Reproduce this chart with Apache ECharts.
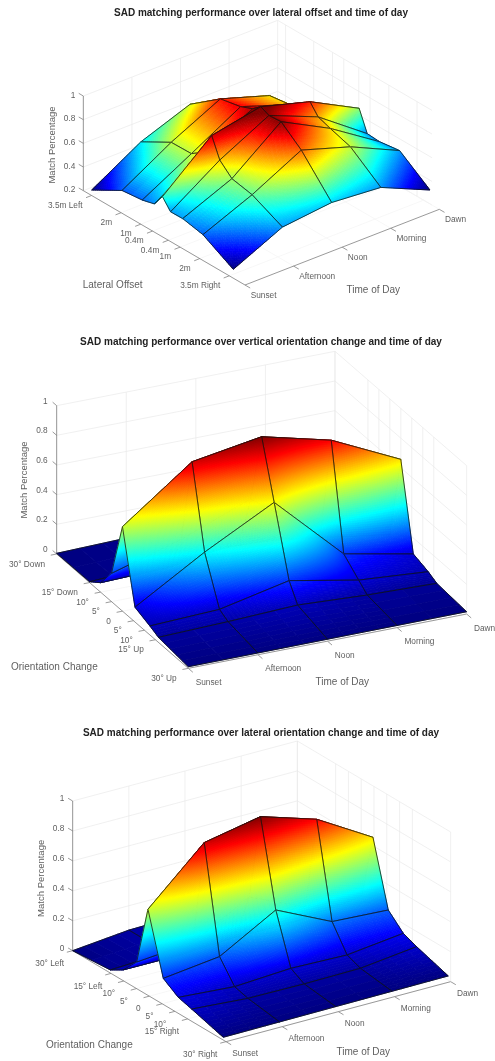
<!DOCTYPE html>
<html><head><meta charset="utf-8">
<style>html,body{margin:0;padding:0;background:#fff}#c{width:495px;height:1061px;filter:blur(.45px)}</style>
<script src="https://cdn.jsdelivr.net/npm/echarts@6/dist/echarts.min.js"></script>
</head><body><div id="c"></div>
<script>
// ---------- data ----------
const titles = [
  'SAD matching performance over lateral offset and time of day',
  'SAD matching performance over vertical orientation change and time of day',
  'SAD matching performance over lateral orientation change and time of day'
];
const timeLabels = ['Sunset','Afternoon','Noon','Morning','Dawn'];
const timeIdx = [0,1,2,3,4];

const p1TickVals = [-3.5,-2,-1,-0.4,0.4,1,2,3.5];
const p1TickLabels = ['3.5m Left','2m','1m','0.4m','0.4m','1m','2m','3.5m Right'];
const p1Rows = [-3.5,-2,-1,-0.4,0,0.4,1,2,3.5];
const p1Z = [
  [0.20,0.44,0.59,0.45,0.20],
  [0.34,0.58,0.78,0.64,0.27],
  [0.355,0.58,0.81,0.66,0.30],
  [0.38,0.65,0.85,0.72,0.40],
  [0.48,0.83,0.906,0.78,0.556],
  [0.39,0.66,0.87,0.69,0.38],
  [0.39,0.56,0.875,0.65,0.37],
  [0.35,0.52,0.73,0.59,0.39],
  [0.20,0.39,0.43,0.39,0.20]
];
const p1ZTicks = [0.2,0.4,0.6,0.8,1];

const p2TickVals = [-30,-15,-10,-5,0,5,10,15,30];
const p2TickLabels = ['30° Down','15° Down','10°','5°','0','5°','10°','15° Up','30° Up'];
const p2Rows = [-30,-15,-10,-5,0,5.7,12.5,16.4,30];
const p2Z = [
  [0,0.01,0.01,0.01,0],
  [0,0.02,0.05,0.03,0.01],
  [0.057,0.07,0.15,0.08,0.04],
  [0.184,0.32,0.50,0.15,0.07],
  [0.562,0.907,0.983,0.867,0.645],
  [0.092,0.37,0.613,0.173,0.08],
  [0.052,0.071,0.172,0.083,0.047],
  [0.025,0.038,0.057,0.032,0.018],
  [0,0,0,0,0]
];
const p2ZTicks = [0,0.2,0.4,0.6,0.8,1];

const p3TickVals = [-30,-15,-10,-5,0,5,10,15,30];
const p3TickLabels = ['30° Left','15° Left','10°','5°','0','5°','10°','15° Right','30° Right'];
const p3Rows = [-30,-15,-10,-4.5,0,6.1,12.1,17.4,30];
const p3Z = [
  [0,0.035,0.04,0.04,0],
  [0.016,0.03,0.03,0.03,0.06],
  [0.064,0.06,0.08,0.07,0.11],
  [0.17,0.20,0.40,0.23,0.20],
  [0.566,0.909,0.98,0.86,0.637],
  [0.163,0.206,0.415,0.235,0.21],
  [0.094,0.063,0.083,0.07,0.112],
  [0.067,0.036,0.03,0.032,0.074],
  [0,0,0,0,0]
];
const p3ZTicks = [0,0.2,0.4,0.6,0.8,1];

// ---------- layout (view geometry, in 1/3 px units of each panel) ----------
const panels = [
 {top:0,h:320,title:titles[0],titleTop:8,rows:p1Rows,z:p1Z,zTicks:p1ZTicks,tickVals:p1TickVals,tickLabels:p1TickLabels,
  c:[0.2,0.88],zRange:[0.2,1],L:[250,572],F:[735,855],R:[1318,628],zPx:284,wallR:0.955,rDom:[-3.92,4.3],
  O:[275,570],Tv:[147.5,-59.5],Rv:[60.7,34],r0:-3.5,zPxS:354,z0:0.2,
  rowOff:[-27,30],timeOff:[17,31],zLabX:226,zLabDy:-2,
  yTitle:[157,435],rTitle:[338,857,'Lateral Offset'],tTitle:[1120,870]},
 {top:330,h:370,title:titles[1],titleTop:7,rows:p2Rows,z:p2Z,zTicks:p2ZTicks,tickVals:p2TickVals,tickLabels:p2TickLabels,
  c:[0,0.983],zRange:[0,1],L:[170,672],F:[565,1015],R:[1400,852],zPx:445,wallR:1,rDom:[-30,30],
  O:[170,670],Tv:[208.75,-41.25],Rv:[6.58,5.67],r0:-30,zPxS:445,z0:0,
  rowOff:[-35,31],timeOff:[22,43],zLabX:143,zLabDy:-13,
  yTitle:[72,450],rTitle:[163,1012,'Orientation Change'],tTitle:[1027,1058]},
 {top:720,h:341,title:titles[2],titleTop:8,rows:p3Rows,z:p3Z,zTicks:p3ZTicks,tickVals:p3TickVals,tickLabels:p3TickLabels,
  c:[0,0.98],zRange:[0,1],L:[218,692],F:[678,965],R:[1352,785],zPx:449,wallR:1,rDom:[-30,30],
  O:[218,692],Tv:[168.75,-46],Rv:[7.53,4.33],r0:-30,zPxS:449,z0:0,
  rowOff:[-26,39],timeOff:[19,35],zLabX:193,zLabDy:-6,
  yTitle:[125,475],rTitle:[268,977,'Orientation Change'],tTitle:[1090,997]}
];

function jet(v){
  const c=x=>Math.round(255*Math.max(0,Math.min(1,x)));
  return 'rgb('+c(Math.min(4*v-1.5,-4*v+4.5))+','+c(Math.min(4*v-0.5,-4*v+3.5))+','+c(Math.min(4*v+0.5,-4*v+2.5))+')';
}
function surfProj(p,t,r,z){
  return [p.O[0]+t*p.Tv[0]+(r-p.r0)*p.Rv[0],
          p.O[1]+t*p.Tv[1]+(r-p.r0)*p.Rv[1]-(z-p.z0)*p.zPxS];
}
function surfaceData(p){
  const out=[];
  for(let i=0;i<p.rows.length-1;i++)for(let t=0;t<timeIdx.length-1;t++){
    const depth=surfProj(p,t+.5,(p.rows[i]+p.rows[i+1])/2,p.z0)[1];
    out.push([t,i,p.z[i][t],p.z[i][t+1],p.z[i+1][t],p.z[i+1][t+1],depth]);
  }
  return out.sort((a,b)=>a[6]-b[6]);
}
function surfaceSeries(p,idx){
  return {type:'custom',name:p.title,coordinateSystem:'cartesian2d',xAxisIndex:idx,yAxisIndex:idx,
    z:5,silent:true,clip:false,progressive:0,animation:false,
    encode:{x:0,y:1},data:surfaceData(p),
    renderItem(params,api){
      const t=api.value(0),i=api.value(1);
      const a=api.value(2),b=api.value(3),c=api.value(4),d=api.value(5);
      const r0=p.rows[i],r1=p.rows[i+1];
      const zAt=(u,v)=>a*(1-u)*(1-v)+b*u*(1-v)+c*(1-u)*v+d*u*v;
      const P=(u,v)=>api.coord(surfProj(p,t+u,r0+(r1-r0)*v,zAt(u,v)));
      const dist=(q,w)=>Math.hypot(q[0]-w[0],q[1]-w[1]);
      const p00=P(0,0),p10=P(1,0),p01=P(0,1),p11=P(1,1);
      const lenT=Math.max(dist(p00,p10),dist(p01,p11)), lenR=Math.max(dist(p00,p01),dist(p10,p11));
      // cell count limited by colour change per cell and by on-screen cell size (about 2px)
      const nT=Math.max(2,Math.min(Math.ceil(lenT/2),Math.ceil(Math.max(Math.abs(b-a),Math.abs(d-c))/0.008)));
      const nR=Math.max(2,Math.min(Math.ceil(lenR/2),Math.ceil(Math.max(Math.abs(c-a),Math.abs(d-b))/0.008)));
      const children=[];
      for(let m=0;m<nR;m++)for(let n=0;n<nT;n++){
        const u0=n/nT,u1=(n+1)/nT,v0=m/nR,v1=(m+1)/nR;
        const col=jet(Math.max(0,Math.min(1,(zAt((u0+u1)/2,(v0+v1)/2)-p.c[0])/(p.c[1]-p.c[0]))));
        children.push({type:'polygon',silent:true,shape:{points:[P(u0,v0),P(u1,v0),P(u1,v1),P(u0,v1)]},
          style:{fill:col,stroke:col,lineWidth:0.8,lineJoin:'round'}});
      }
      children.push({type:'polygon',silent:true,shape:{points:[p00,p10,p11,p01]},
        style:{fill:null,stroke:'rgba(15,20,15,0.85)',lineWidth:0.9,lineJoin:'round'}});
      return {type:'group',children};
    }};
}
function frameSeries(p,idx){
  return {type:'custom',name:p.title+' axes',coordinateSystem:'cartesian2d',xAxisIndex:idx,yAxisIndex:idx,
    z:2,silent:true,clip:false,animation:false,encode:{x:0,y:1},data:[[0,0]],
    renderItem(params,api){
      const L=p.L,F=p.F,Rr=p.R;
      const rv=[F[0]-L[0],F[1]-L[1]], tv=[Rr[0]-F[0],Rr[1]-F[1]];
      const B=[L[0]+tv[0],L[1]+tv[1]];
      const unit=v=>{const n=Math.hypot(v[0],v[1]);return [v[0]/n,v[1]/n];};
      const zs=z=>(z-p.zRange[0])/(p.zRange[1]-p.zRange[0])*p.zPx;
      const c=api.coord;
      const els=[];
      const line=(a,b,col,w)=>els.push({type:'line',silent:true,shape:{x1:c(a)[0],y1:c(a)[1],x2:c(b)[0],y2:c(b)[1]},style:{stroke:col,lineWidth:w}});
      const text=(s,x,y,o)=>{const q=c([x,y]);els.push(Object.assign({type:'text',silent:true,x:q[0],y:q[1],
        style:Object.assign({text:s,fill:'#5f5f5f',font:'8.3px "Liberation Sans"',textAlign:'left',textVerticalAlign:'middle'},o&&o.style)},o&&o.el));};
      const grid='#e9e9e9', floor='#f4f4f4', ax='#808080', tk='#707070';
      const fOf=v=>(v-p.rDom[0])/(p.rDom[1]-p.rDom[0]);
      const wR=[B[0]+rv[0]*p.wallR,B[1]+rv[1]*p.wallR];
      p.zTicks.forEach(z=>{const h=zs(z);
        line([L[0],L[1]-h],[B[0],B[1]-h],grid,0.7);
        line([B[0],B[1]-h],[wR[0],wR[1]-h],grid,0.7);
      });
      const H=p.zPx;
      timeIdx.forEach(i=>{const f=i/4,x=L[0]+tv[0]*f,y=L[1]+tv[1]*f;
        line([x,y],[x,y-H],grid,0.7);
        line([x,y],[x+rv[0],y+rv[1]],floor,0.7);
        const a=[F[0]+tv[0]*f,F[1]+tv[1]*f],d=unit(rv);
        line(a,[a[0]+d[0]*18,a[1]+d[1]*18],tk,0.7);
        text(timeLabels[i],a[0]+p.timeOff[0],a[1]+p.timeOff[1]);
      });
      p.tickVals.forEach((v,i)=>{const f=fOf(v);
        const x=B[0]+rv[0]*f*p.wallR,y=B[1]+rv[1]*f*p.wallR;
        line([x,y],[x,y-H],grid,0.7);
        const a=[L[0]+rv[0]*f,L[1]+rv[1]*f],d=unit(tv);
        line(a,[a[0]+tv[0],a[1]+tv[1]],floor,0.7);
        line(a,[a[0]-d[0]*18,a[1]-d[1]*18],tk,0.7);
        text(p.tickLabels[i],a[0]+p.rowOff[0],a[1]+p.rowOff[1],{style:{textAlign:'right'}});
      });
      line([L[0],L[1]],[L[0],L[1]-H],ax,0.8);
      line(L,F,ax,0.8);
      line(F,Rr,ax,0.8);
      const dr=unit(rv);
      p.zTicks.forEach(z=>{const h=zs(z);
        line([L[0],L[1]-h],[L[0]-dr[0]*16,L[1]-h-dr[1]*16],tk,0.7);
        text(String(z),p.zLabX,L[1]-h+p.zLabDy,{style:{textAlign:'right'}});
      });
      const tf='10px "Liberation Sans"';
      text('Match Percentage',p.yTitle[0],p.yTitle[1],{el:{rotation:Math.PI/2},style:{font:'9.5px "Liberation Sans"',textAlign:'center'}});
      text(p.rTitle[2],p.rTitle[0],p.rTitle[1],{style:{font:tf,textAlign:'center'}});
      text('Time of Day',p.tTitle[0],p.tTitle[1],{style:{font:tf,textAlign:'center'}});
      return {type:'group',children:els};
    }};
}
const chart=echarts.init(document.getElementById('c'),null,{renderer:'canvas'});
chart.setOption({
  animation:false,backgroundColor:'#fff',
  title:panels.map(p=>({text:p.title,left:261,top:p.top+p.titleTop,textAlign:'center',
    textStyle:{fontFamily:'Liberation Sans',fontSize:10,fontWeight:'bold',color:'#222'},padding:0})),
  grid:panels.map(p=>({left:0,width:495,top:p.top,height:p.h,show:false})),
  xAxis:panels.map((p,i)=>({type:'value',gridIndex:i,min:0,max:1485,show:false})),
  yAxis:panels.map((p,i)=>({type:'value',gridIndex:i,min:0,max:p.h*3,inverse:true,show:false})),
  series:panels.flatMap((p,i)=>[frameSeries(p,i),surfaceSeries(p,i)])
});
</script></body></html>
